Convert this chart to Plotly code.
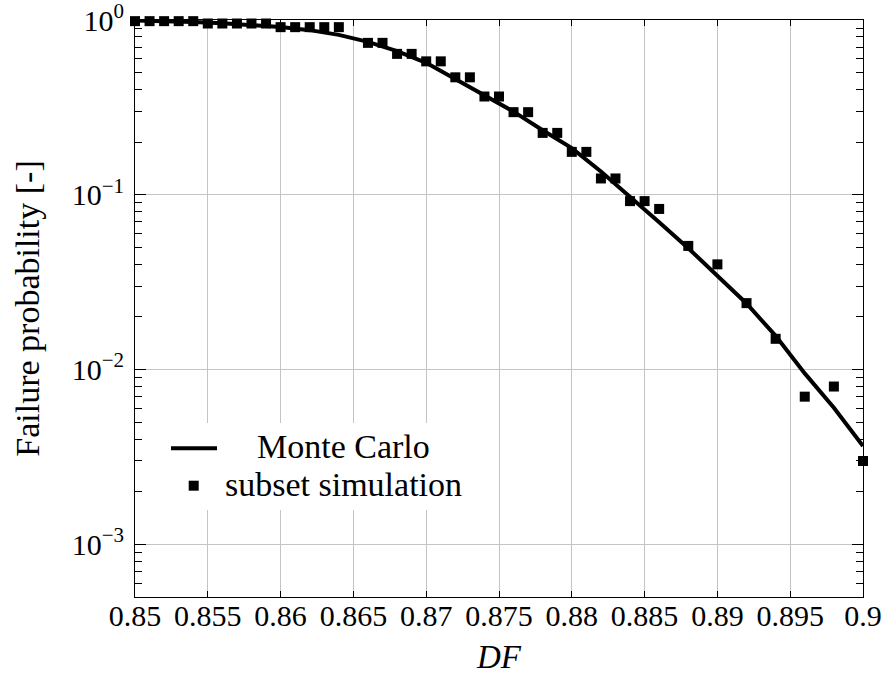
import math
import plotly.graph_objects as go

# Design factor DF and failure probability from the Monte Carlo reference run
mc_df = [0.850, 0.852, 0.854, 0.856, 0.858, 0.860, 0.862, 0.864, 0.866, 0.868,
         0.870, 0.872, 0.874, 0.876, 0.878, 0.880, 0.882, 0.884, 0.886, 0.888,
         0.890, 0.892, 0.894, 0.896, 0.898, 0.900]
mc_pf = [0.993, 0.986, 0.975, 0.959, 0.940, 0.912, 0.875, 0.822, 0.750, 0.664,
         0.569, 0.457, 0.370, 0.299, 0.234, 0.185, 0.136, 0.0982, 0.0697, 0.0495,
         0.0341, 0.0239, 0.0156, 0.00951, 0.00605, 0.00365]

# Subset simulation estimates
ss_df = [0.850, 0.851, 0.852, 0.853, 0.854, 0.855, 0.856, 0.857, 0.858, 0.859,
         0.860, 0.861, 0.862, 0.863, 0.864, 0.866, 0.867, 0.868, 0.869, 0.870,
         0.871, 0.872, 0.873, 0.874, 0.875, 0.876, 0.877, 0.878, 0.879, 0.880,
         0.881, 0.882, 0.883, 0.884, 0.885, 0.886, 0.888, 0.890, 0.892, 0.894,
         0.896, 0.898, 0.900]
ss_pf = [0.985, 0.985, 0.985, 0.985, 0.985, 0.955, 0.955, 0.955, 0.955, 0.955,
         0.91, 0.91, 0.91, 0.91, 0.91, 0.74, 0.74, 0.64, 0.64, 0.58,
         0.58, 0.47, 0.47, 0.365, 0.365, 0.297, 0.297, 0.226, 0.226, 0.176,
         0.176, 0.124, 0.124, 0.092, 0.092, 0.083, 0.051, 0.040, 0.024, 0.015,
         0.007, 0.008, 0.003]

x_ticks = [0.85, 0.855, 0.86, 0.865, 0.87, 0.875, 0.88, 0.885, 0.89, 0.895, 0.9]
x_labels = ["0.85", "0.855", "0.86", "0.865", "0.87", "0.875", "0.88", "0.885",
            "0.89", "0.895", "0.9"]
y_ticks = [1e-3, 1e-2, 1e-1, 1.0]
y_labels = ["10<sup>\u22123</sup>", "10<sup>\u22122</sup>", "10<sup>\u22121</sup>", "10<sup>0</sup>"]
y_minor = [k * 10.0 ** e for e in (-4, -3, -2, -1) for k in range(2, 10)]
y_minor = [v for v in y_minor if v >= 5e-4]

legend_names = ["Monte Carlo", "subset simulation"]

FONT = "Liberation Serif"
W, H = 882, 675
ML, MR, MT, MB = 135, 19, 20, 78
GRID = "#c4c4c4"
LINE_W = 4

fig = go.Figure()
fig.add_trace(go.Scatter(x=mc_df, y=mc_pf, mode="lines", name=legend_names[0],
                         line=dict(color="black", width=LINE_W)))
fig.add_trace(go.Scatter(x=ss_df, y=ss_pf, mode="markers", name=legend_names[1],
                         cliponaxis=False,
                         marker=dict(symbol="square", size=10, color="black",
                                     line=dict(width=0))))

fig.update_xaxes(range=[0.85, 0.9], tickmode="array", tickvals=x_ticks, ticktext=x_labels,
                 showgrid=True, gridcolor=GRID, gridwidth=1, zeroline=False,
                 showline=True, linecolor="black", linewidth=1, mirror="ticks",
                 ticks="inside", ticklen=6, tickcolor="black", ticklabelstandoff=-8,
                 ticklabeloverflow="allow", automargin=False,
                 tickfont=dict(family=FONT, size=30, color="black"),
                 title=dict(text="<i>DF</i>", font=dict(family=FONT, size=33, color="black"),
                            standoff=30))
fig.update_yaxes(type="log", range=[math.log10(5e-4), 0.0], tickmode="array",
                 tickvals=y_ticks, ticktext=y_labels,
                 showgrid=True, gridcolor=GRID, gridwidth=1, zeroline=False,
                 showline=True, linecolor="black", linewidth=1, mirror="ticks",
                 ticks="inside", ticklen=11, tickcolor="black", ticklabelstandoff=4,
                 ticklabeloverflow="allow", automargin=False,
                 tickfont=dict(family=FONT, size=30, color="black"),
                 minor=dict(tickmode="array", tickvals=y_minor, ticks="inside", ticklen=7,
                            tickcolor="black", showgrid=False),
                 title=dict(text="Failure probability [-]",
                            font=dict(family=FONT, size=34, color="black"), standoff=21))


# Legend drawn in pixel space of the figure
def px_x(px):
    return (px - ML) / (W - ML - MR)


def px_y(py):
    return (H - MB - py) / (H - MT - MB)


shapes = [
    dict(type="rect", xref="paper", yref="paper", layer="above",
         x0=px_x(150), x1=px_x(470), y0=px_y(510), y1=px_y(423),
         fillcolor="white", line=dict(width=0)),
    dict(type="line", xref="paper", yref="paper", layer="above",
         x0=px_x(171), x1=px_x(217), y0=px_y(448.3), y1=px_y(448.3),
         line=dict(color="black", width=LINE_W)),
    dict(type="rect", xref="paper", yref="paper", layer="above",
         x0=px_x(188.7), x1=px_x(198.7), y0=px_y(490.7), y1=px_y(480.7),
         fillcolor="black", line=dict(width=0)),
]
annotations = [
    dict(text=legend_names[0], xref="paper", yref="paper", x=px_x(343), y=px_y(446),
         xanchor="center", yanchor="middle", showarrow=False,
         font=dict(family=FONT, size=34, color="black")),
    dict(text=legend_names[1], xref="paper", yref="paper", x=px_x(343), y=px_y(484),
         xanchor="center", yanchor="middle", showarrow=False,
         font=dict(family=FONT, size=34, color="black")),
]

fig.update_layout(width=W, height=H, margin=dict(l=ML, r=MR, t=MT, b=MB),
                  plot_bgcolor="white", paper_bgcolor="white", showlegend=False,
                  shapes=shapes, annotations=annotations,
                  font=dict(family=FONT, color="black"))

fig.write_html("out.html")
